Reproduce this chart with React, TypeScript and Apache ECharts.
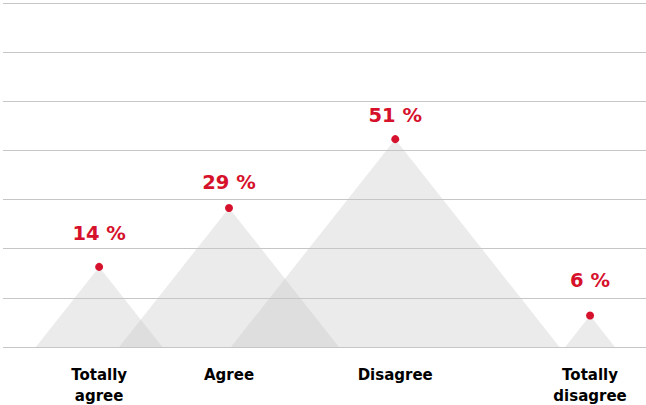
import React, { useEffect, useRef } from "react";
import * as echarts from "echarts";

const categories = ["Totally\nagree", "Agree", "Disagree", "Totally\ndisagree"];
const percentLabels = [14, 29, 51, 6];
// peak heights as drawn on the 0–70 axis
const peakHeights = [16.3, 28.3, 42.3, 6.4];
// horizontal position of each category on a 0–100 axis
const xPositions = [14.95, 35.15, 61.0, 91.3];
const yTicks = { min: 0, max: 70, interval: 10 };

// label gap above each dot (style)
const labelDistances = [19.5, 11.5, 10, 21.5];

const RED = "#d6112b";
const FONT = "DejaVu Sans";

export default function App() {
  const ref = useRef<HTMLDivElement>(null);

  useEffect(() => {
    if (!ref.current) return;
    const chart = echarts.init(ref.current, null, { renderer: "svg" });

    const tri = xPositions.map((x, i) => [x, peakHeights[i]]);
    const dots = xPositions.map((x, i) => ({
      value: [x, peakHeights[i]],
      label: { formatter: `${percentLabels[i]} %`, distance: labelDistances[i] },
    }));
    const cats = xPositions.map((x, i) => ({
      value: [x, 0],
      label: { formatter: categories[i] },
    }));

    chart.setOption({
      animation: false,
      backgroundColor: "#ffffff",
      grid: { left: 3, right: 0, top: 3, bottom: 58 },
      xAxis: {
        type: "value",
        min: 0,
        max: 100,
        show: false,
      },
      yAxis: {
        type: "value",
        min: yTicks.min,
        max: yTicks.max,
        interval: yTicks.interval,
        axisLabel: { show: false },
        axisLine: { show: false },
        axisTick: { show: false },
        splitLine: { lineStyle: { color: "#c6c6c6", width: 1 } },
      },
      series: [
        {
          type: "custom",
          z: 1,
          data: tri,
          renderItem: (params: any, api: any) => {
            const x = api.value(0);
            const h = api.value(1);
            const top = api.coord([x, h]);
            const base = api.coord([x, 0]);
            const hw = (base[1] - top[1]) * 0.79;
            return {
              type: "polygon",
              shape: {
                points: [
                  [top[0] - hw, base[1]],
                  [top[0], top[1]],
                  [top[0] + hw, base[1]],
                ],
              },
              style: { fill: "rgba(200,200,200,0.36)" },
            };
          },
        },
        {
          type: "scatter",
          z: 3,
          symbol: "circle",
          symbolSize: 8,
          itemStyle: { color: RED, opacity: 1 },
          data: dots,
          label: {
            show: true,
            position: "top",
            color: RED,
            fontFamily: FONT,
            fontWeight: "bold",
            fontSize: 19.5,
            lineHeight: 20,
          },
        },
        {
          type: "scatter",
          z: 3,
          symbolSize: 0,
          itemStyle: { opacity: 1 },
          data: cats,
          label: {
            show: true,
            position: "bottom",
            distance: 17,
            color: "#000000",
            fontFamily: FONT,
            fontWeight: "bold",
            fontSize: 15,
            lineHeight: 21,
            align: "center",
          },
        },
      ],
    });

    return () => chart.dispose();
  }, []);

  return <div ref={ref} style={{ width: 646, height: 405, position: "absolute", left: 0, top: 0 }} />;
}
